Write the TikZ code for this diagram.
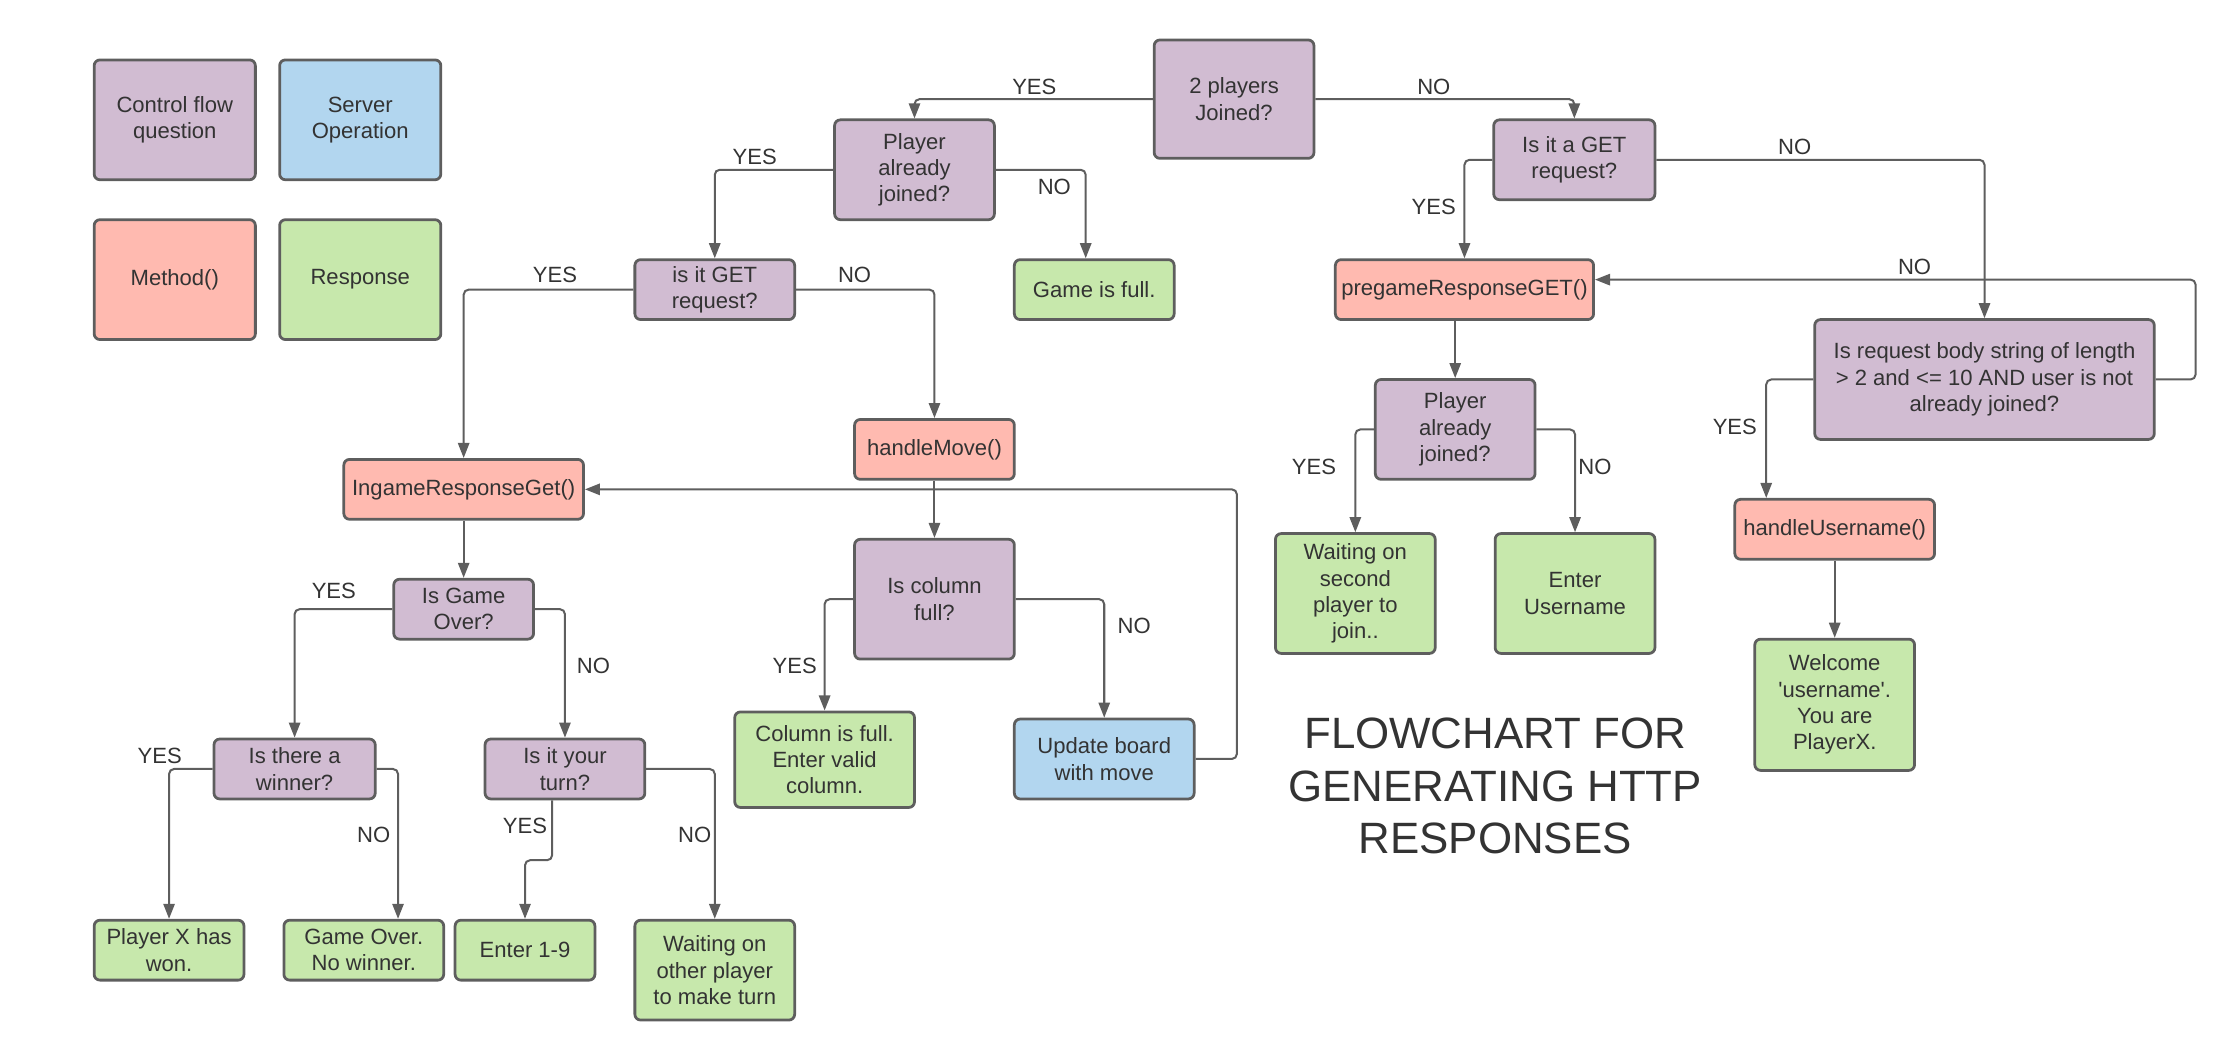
\documentclass[tikz,border=0pt]{standalone}
\usepackage{fontspec}
\setmainfont{Liberation Sans}
\usepackage{xcolor}
\usepackage{tikz}
\usetikzlibrary{arrows.meta}

\definecolor{qfill}{RGB}{209,188,210}
\definecolor{opfill}{RGB}{178,214,239}
\definecolor{mfill}{RGB}{255,186,176}
\definecolor{rfill}{RGB}{199,232,172}
\definecolor{lineclr}{RGB}{94,94,94}
\definecolor{ink}{RGB}{51,51,51}

\tikzset{
  box/.style={draw=lineclr, line width=1.1pt, rounded corners=2.3pt, text=ink, align=center, inner sep=1pt},
  ques/.style={box, fill=qfill},
  oper/.style={box, fill=opfill},
  meth/.style={box, fill=mfill},
  resp/.style={box, fill=rfill},
  sz/.style 2 args={minimum width=#1*0.02cm, minimum height=#2*0.02cm},
  conn/.style={draw=lineclr, line width=0.8pt, rounded corners=2pt, -{Triangle[length=6pt,width=4.5pt]}},
  lbl/.style={text=ink, inner sep=0pt},
  title/.style={text=ink, align=center, font=\fontsize{17.5}{21}\selectfont},
}

\begin{document}
\begin{tikzpicture}[x=0.02cm, y=-0.02cm, font=\fontsize{8.8}{10.5}\selectfont]
\useasboundingbox (0,0) rectangle (1568,743);

% legend
\node[ques, sz={113}{84}] (legq) at (122.5,84) {Control flow\\question};
\node[oper, sz={113}{84}] (lego) at (252.5,84) {Server\\Operation};
\node[meth, sz={113}{84}] (legm) at (122.5,196) {Method()};
\node[resp, sz={113}{84}] (legr) at (252.5,196) {Response};

% nodes
\node[ques, sz={112}{83}] (players) at (865,69.5) {2 players\\Joined?};
\node[ques, sz={112}{70}] (joinedA) at (641,119) {Player\\already\\joined?};
\node[ques, sz={113}{56}] (getB) at (1103.5,112) {Is it a GET\\request?};
\node[ques, sz={112}{42}] (getA) at (501,203) {is it GET\\request?};
\node[resp, sz={112}{42}] (full) at (767,203) {Game is full.};
\node[meth, sz={181}{42}] (pregame) at (1026.5,203) {pregameResponseGET()};
\node[ques, sz={238}{84}] (body) at (1391,266) {Is request body string of length\\> 2 and <= 10 AND user is not\\already joined?};
\node[meth, sz={112}{42}] (move) at (655,315) {handleMove()};
\node[meth, sz={168}{42}] (ingame) at (325,343) {IngameResponseGet()};
\node[ques, sz={112}{70}] (joinedB) at (1020,301) {Player\\already\\joined?};
\node[meth, sz={140}{42}] (uname) at (1286,371) {handleUsername()};
\node[ques, sz={112}{84}] (colfull) at (655,420) {Is column\\full?};
\node[ques, sz={98}{42}] (over) at (325,427) {Is Game\\Over?};
\node[resp, sz={112}{84}] (waitB) at (950,416) {Waiting on\\second\\player to\\join..};
\node[resp, sz={112}{84}] (enterU) at (1104,416) {Enter\\Username};
\node[resp, sz={112}{92}] (welcome) at (1286,494) {Welcome\\{\textquotesingle}username{\textquotesingle}.\\You are\\PlayerX.};
\node[resp, sz={126}{67}] (colmsg) at (578,532.5) {Column is full.\\Enter valid\\column.};
\node[oper, sz={126}{56}] (update) at (774,532) {Update board\\with move};
\node[ques, sz={113}{42}] (winner) at (206.5,539) {Is there a\\winner?};
\node[ques, sz={112}{42}] (turn) at (396,539) {Is it your\\turn?};
\node[resp, sz={105}{42}] (won) at (118.5,666) {Player X has\\won.};
\node[resp, sz={112}{42}] (nowin) at (255,666) {Game Over.\\No winner.};
\node[resp, sz={98}{42}] (enter) at (368,666) {Enter 1-9};
\node[resp, sz={112}{70}] (waitA) at (501,680) {Waiting on\\other player\\to make turn};

\node[title] (title) at (1048,551) {FLOWCHART FOR\\GENERATING HTTP\\RESPONSES};

% connectors
\draw[conn] (players.west) -| (joinedA.north);
\draw[conn] (players.east) -| (getB.north);
\draw[conn] (joinedA.west) -| (getA.north);
\draw[conn] (joinedA.east) -| ([xshift=-0.12cm]full.north);
\draw[conn] (getB.west) -| (pregame.north);
\draw[conn] (getB.east) -| (body.north);
\draw[conn] (body.east) -- ++(28,0) |- ([yshift=0.14cm]pregame.east);
\draw[conn] (body.west) -| ([xshift=-0.96cm]uname.north);
\draw[conn] (uname) -- (welcome);
\draw[conn] (pregame.south -| joinedB.north) -- (joinedB.north);
\draw[conn] (joinedB.west) -| (waitB.north);
\draw[conn] (joinedB.east) -| (enterU.north);
\draw[conn] (getA.west) -| (ingame.north);
\draw[conn] (getA.east) -| (move.north);
\draw[conn] (move) -- (colfull);
\draw[conn] (update.east) -- ++(29,0) |- (ingame.east);
\draw[conn] (ingame) -- (over);
\draw[conn] (over.west) -| (winner.north);
\draw[conn] (over.east) -| (turn.north);
\draw[conn] (winner.west) -| (won.north);
\draw[conn] (winner.east) -| ([xshift=0.48cm]nowin.north);
\draw[conn] ([xshift=-0.18cm]turn.south) -- ++(0,42) -| (enter.north);
\draw[conn] (turn.east) -| (waitA.north);
\draw[conn] (colfull.west) -| (colmsg.north);
\draw[conn] (colfull.east) -| (update.north);

% branch labels
\foreach \i/\x/\y/\t in {1/725/61/YES, 2/1005/61/NO, 3/529/110/YES, 4/739/131/NO,
  5/1005/145/YES, 6/1258/103/NO, 7/1342/187/NO, 8/1216/299/YES, 9/921/327/YES,
  10/1118/327/NO, 11/389/193/YES, 12/599/193/NO, 13/234/414/YES, 14/416/467/NO,
  15/112/530/YES, 16/262/585/NO, 17/368/579/YES, 18/487/585/NO, 19/557/467/YES,
  20/795/439/NO}
  \node[lbl] (lbl\i) at (\x,\y) {\t};
\end{tikzpicture}
\end{document}
